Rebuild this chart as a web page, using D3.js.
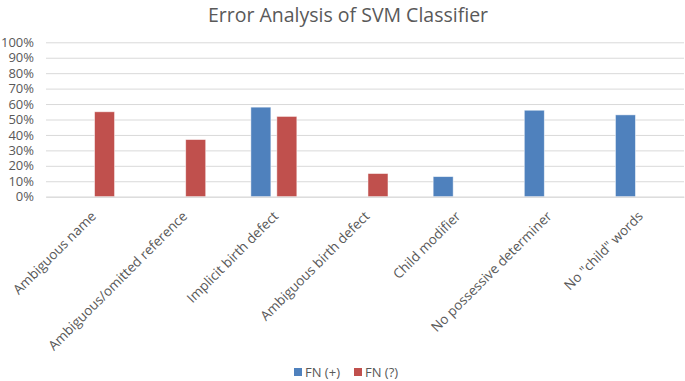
<!DOCTYPE html>
<html><head><meta charset="utf-8">
<script src="https://cdn.jsdelivr.net/npm/d3@7"></script>
<style>body{margin:0;background:#fff}svg{display:block}</style>
</head><body>
<script>
const categories = ["Ambiguous name","Ambiguous/omitted reference","Implicit birth defect","Ambiguous birth defect","Child modifier","No possessive determiner","No \"child\" words"];
const seriesNames = ["FN (+)","FN (?)"];
const fnPlus = [null, null, 0.58, null, 0.13, 0.56, 0.53];
const fnQ = [0.55, 0.37, 0.52, 0.15, null, null, null];
const yTicks = [0,0.1,0.2,0.3,0.4,0.5,0.6,0.7,0.8,0.9,1.0];
const colors = ["#4F81BD","#C0504D"];

const W = 685, H = 381;
const svg = d3.select("body").append("svg").attr("width", W).attr("height", H);
const font = "'Open Sans', sans-serif";
const txt = "#595959";

const x = d3.scaleBand().domain(categories).range([46, 684]);
const y = d3.scaleLinear().domain([0, 1]).range([196.7, 42.3]);
const sub = d3.scaleBand().domain(seriesNames).range([0, x.bandwidth()]).paddingInner(0.23).paddingOuter(0.87);

svg.append("text").attr("x", 348).attr("y", 22).attr("text-anchor", "middle")
  .attr("font-family", font).attr("font-size", 19.5).attr("fill", txt)
  .text("Error Analysis of SVM Classifier");

// gridlines
const yAxis = d3.axisLeft(y).tickValues(yTicks).tickFormat(d3.format(".0%")).tickSize(-(684-46)).tickPadding(12);
const gy = svg.append("g").attr("transform", "translate(46,0)").call(yAxis);
gy.select(".domain").remove();
gy.selectAll(".tick line").attr("stroke", "#D9D9D9").attr("stroke-width", 1);
gy.selectAll(".tick text").attr("font-family", font).attr("font-size", 13).attr("fill", txt);

const series = [fnPlus, fnQ];
series.forEach((vals, si) => {
  svg.append("g").selectAll("rect")
    .data(categories.map((c, i) => ({c, v: vals[i]})).filter(d => d.v != null))
    .join("rect")
    .attr("x", d => x(d.c) + sub(seriesNames[si]))
    .attr("width", sub.bandwidth())
    .attr("y", d => y(d.v))
    .attr("height", d => y(0) - y(d.v))
    .attr("fill", colors[si])
    .attr("stroke", "#fff").attr("stroke-opacity", 0.6).attr("stroke-width", 0.8);
});

// x axis
const xAxis = d3.axisBottom(x).tickSize(0).tickPadding(0);
const gx = svg.append("g").attr("transform", "translate(0,196.7)").call(xAxis);
gx.select(".domain").attr("stroke", "#D9D9D9");
gx.selectAll(".tick text")
  .attr("font-family", font).attr("font-size", 13.5).attr("fill", txt)
  .attr("text-anchor", "end")
  .attr("transform", "translate(2,17) rotate(-45)")
  .attr("dy", "0.35em").attr("y", 0);

// legend
const lg = svg.append("g").attr("transform", "translate(294,372)");
const items = [{n: seriesNames[0], c: colors[0], x: 0}, {n: seriesNames[1], c: colors[1], x: 60}];
items.forEach(it => {
  lg.append("rect").attr("x", it.x).attr("y", -4).attr("width", 8).attr("height", 8).attr("fill", it.c);
  lg.append("text").attr("x", it.x + 11).attr("y", 0).attr("dy", "0.35em")
    .attr("font-family", font).attr("font-size", 13).attr("fill", txt).text(it.n);
});
</script>
</body></html>
